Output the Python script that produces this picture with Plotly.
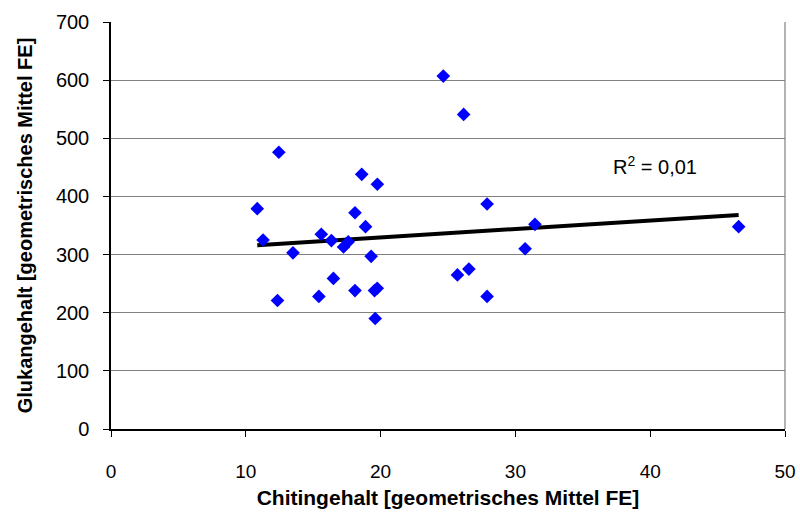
import numpy as np
import plotly.graph_objects as go

# Chitin content (x) and glucan content (y), geometric means in FE
chitin = [24.65, 26.16, 12.45, 18.6, 19.76, 10.85, 27.9, 18.1, 18.88, 31.45,
          46.56, 11.28, 15.6, 16.35, 17.25, 17.6, 13.5, 19.3, 30.72, 26.55,
          25.7, 16.5, 18.1, 19.55, 19.75, 15.42, 27.9, 12.35, 19.6]
glukan = [607, 541, 476, 438, 421, 379, 387, 372, 348, 352,
          348, 325, 335, 324, 313, 322, 303, 297, 310, 275,
          265, 259, 238, 238, 242, 228, 228, 221, 190]

x_ticks = [0, 10, 20, 30, 40, 50]
y_ticks = [0, 100, 200, 300, 400, 500, 600, 700]
r2_label = "R<sup>2</sup> = 0,01"

# Linear trend line over the observed chitin range
xa = np.array(chitin)
ya = np.array(glukan)
slope, intercept = np.polyfit(xa, ya, 1)
x_line = np.array([xa.min(), xa.max()])
y_line = slope * x_line + intercept

font_family = "Liberation Sans, Arial, sans-serif"

fig = go.Figure()
fig.add_trace(go.Scatter(
    x=x_line, y=y_line, mode="lines",
    line=dict(color="black", width=4),
    hoverinfo="skip", showlegend=False,
))
fig.add_trace(go.Scatter(
    x=chitin, y=glukan, mode="markers",
    marker=dict(symbol="diamond", size=10.5, color="#0000FF",
                line=dict(width=0)),
    showlegend=False,
))

fig.add_annotation(
    x=40.36, y=454, xref="x", yref="y", text=r2_label, showarrow=False,
    font=dict(family=font_family, size=20, color="black"),
)

# Grey frame on the right side of the plot area
fig.add_shape(type="line", xref="paper", yref="paper",
              x0=1, x1=1, y0=0, y1=1,
              line=dict(color="#808080", width=1.2), layer="below")

fig.update_layout(
    width=800, height=512,
    margin=dict(l=111, r=15, t=22, b=83),
    paper_bgcolor="white", plot_bgcolor="white",
    font=dict(family=font_family, size=19, color="black"),
    xaxis=dict(
        range=[0, 50], tickvals=x_ticks, ticktext=[str(v) for v in x_ticks],
        showgrid=False, zeroline=False, automargin=False,
        showline=True, linecolor="black", linewidth=1.5,
        ticks="outside", ticklen=6, tickcolor="black", tickwidth=1.2,
        ticklabelstandoff=18, tickfont=dict(size=19),
        title=dict(text="<b>Chitingehalt [geometrisches Mittel FE]</b>",
                   font=dict(size=21), standoff=10),
    ),
    yaxis=dict(
        range=[0, 700], tickvals=y_ticks, ticktext=[str(v) for v in y_ticks],
        showgrid=True, gridcolor="#808080", gridwidth=1.2, zeroline=False,
        automargin=False,
        showline=True, linecolor="black", linewidth=1.5,
        ticks="outside", ticklen=6, tickcolor="black", tickwidth=1.2,
        ticklabelstandoff=10, tickfont=dict(size=20),
        title=dict(text="<b>Glukangehalt [geometrisches Mittel FE]</b>",
                   font=dict(size=20), standoff=18),
    ),
)

fig.write_html("out.html")
